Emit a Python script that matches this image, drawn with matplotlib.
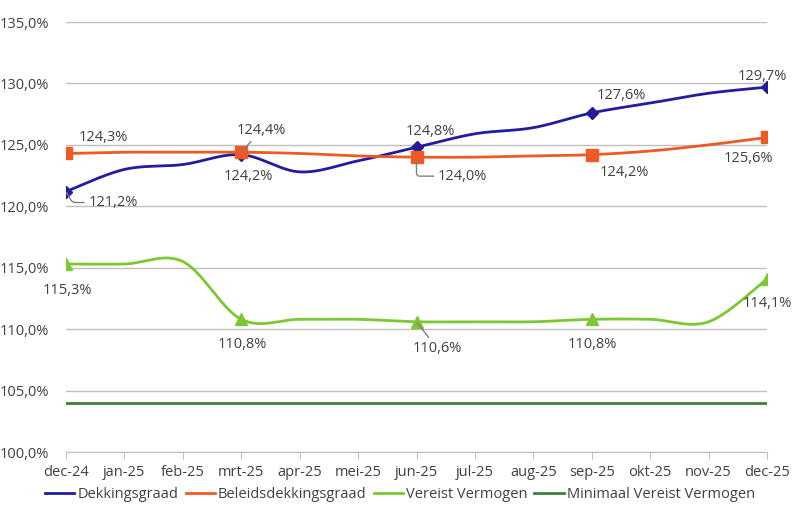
import numpy as np
import matplotlib.pyplot as plt

plt.rcParams['font.family'] = ['Open Sans', 'DejaVu Sans']

months = ["dec-24", "jan-25", "feb-25", "mrt-25", "apr-25", "mei-25", "jun-25",
          "jul-25", "aug-25", "sep-25", "okt-25", "nov-25", "dec-25"]
dekking = [121.2, 123.0, 123.4, 124.2, 122.8, 123.7, 124.8, 125.9, 126.4, 127.6, 128.4, 129.2, 129.7]
beleid = [124.3, 124.4, 124.4, 124.4, 124.3, 124.1, 124.0, 124.0, 124.1, 124.2, 124.5, 125.0, 125.6]
vereist = [115.3, 115.3, 115.5, 110.8, 110.8, 110.8, 110.6, 110.6, 110.6, 110.8, 110.8, 110.6, 114.1]
minimaal = [104.0] * 13
marker_idx = [0, 3, 6, 9, 12]

c_blue = "#231C9C"
c_orange = "#EE5A24"
c_green = "#7CC832"
c_dark = "#3C7F3E"
c_text = "#404040"


def smooth(y, n=30):
    # excel-like smoothed line (bezier through the points)
    y = np.asarray(y, dtype=float)
    x = np.arange(len(y), dtype=float)
    xs, ys = [], []
    for i in range(len(y) - 1):
        p0 = np.array([x[max(i - 1, 0)], y[max(i - 1, 0)]])
        p1 = np.array([x[i], y[i]])
        p2 = np.array([x[i + 1], y[i + 1]])
        p3 = np.array([x[min(i + 2, len(y) - 1)], y[min(i + 2, len(y) - 1)]])
        c1 = p1 + (p2 - p0) / 6
        c2 = p2 - (p3 - p1) / 6
        t = np.linspace(0, 1, n)[:, None]
        pts = (1 - t) ** 3 * p1 + 3 * (1 - t) ** 2 * t * c1 + 3 * (1 - t) * t ** 2 * c2 + t ** 3 * p2
        xs.extend(pts[:, 0])
        ys.extend(pts[:, 1])
    return np.array(xs), np.array(ys)


fig = plt.figure(figsize=(8, 5.23), dpi=100)
ax = fig.add_axes([66 / 800, 1 - 452 / 523, 701 / 800, 430 / 523])

series = [
    ("Dekkingsgraad", dekking, c_blue, "D", 6),
    ("Beleidsdekkingsgraad", beleid, c_orange, "s", 8),
    ("Vereist Vermogen", vereist, c_green, "^", 8),
]
for name, vals, col, mk, ms in series:
    sx, sy = smooth(vals)
    ax.plot(sx, sy, color=col, lw=2, label=name, zorder=3)
    mx = np.array(marker_idx)
    ax.plot(mx, np.array(vals)[mx], ls="none", marker=mk, ms=ms, color=col, zorder=4)

ax.plot(range(len(months)), minimaal, color=c_dark, lw=2, label="Minimaal Vereist Vermogen", zorder=3)

ax.set_xlim(0, 12)
ax.set_ylim(100, 135)
ax.set_yticks(np.arange(100, 136, 5))
ax.set_yticklabels([f"{v:.1f}%".replace(".", ",") for v in np.arange(100, 136, 5)])
ax.set_xticks(range(len(months)))
ax.set_xticklabels(months)
ax.grid(axis="y", color="#BFBFBF", lw=1)
ax.set_axisbelow(True)
for s in ["top", "right", "left"]:
    ax.spines[s].set_visible(False)
ax.spines["bottom"].set_color("#BFBFBF")
ax.tick_params(axis="y", length=0, pad=12, labelsize=10.5, labelcolor=c_text)
ax.tick_params(axis="x", length=5, color="#BFBFBF", pad=4, labelsize=10.5, labelcolor=c_text)


def fmt(v):
    return f"{v:.1f}%".replace(".", ",")


# label offsets in pixels (dx, dy), and leader line style (None = no line)
labels = [
    (dekking, 0, 47, -11, "angle,angleA=0,angleB=-60,rad=3"),
    (dekking, 3, 7, -22, None),
    (dekking, 6, 14, 16, None),
    (dekking, 9, 30, 17, None),
    (dekking, 12, -5, 11, None),
    (beleid, 0, 37, 16, None),
    (beleid, 3, 20, 22, "arc3"),
    (beleid, 6, 46, -19, "angle,angleA=0,angleB=90,rad=3"),
    (beleid, 9, 33, -18, None),
    (beleid, 12, -19, -21, None),
    (vereist, 0, 1, -26, None),
    (vereist, 3, 1, -25, None),
    (vereist, 6, 21, -27, "arc3"),
    (vereist, 9, 1, -25, None),
    (vereist, 12, 0, -25, None),
]
for vals, i, dx, dy, conn in labels:
    kw = {}
    if conn:
        kw["arrowprops"] = dict(arrowstyle="-", color="#7F7F7F", lw=1, shrinkA=1, shrinkB=1,
                                connectionstyle=conn)
    ax.annotate(fmt(vals[i]), (i, vals[i]), xytext=(dx, dy), textcoords="offset pixels",
                ha="center", va="center", fontsize=10.5, color=c_text, zorder=5,
                annotation_clip=False, **kw)

fig.legend(loc="center", bbox_to_anchor=(0.5, 1 - 495 / 523), ncol=4, frameon=False,
           fontsize=10.5, handlelength=2.0, handletextpad=0.2, columnspacing=0.5,
           labelcolor=c_text)

fig.savefig("out.png", dpi=100)
